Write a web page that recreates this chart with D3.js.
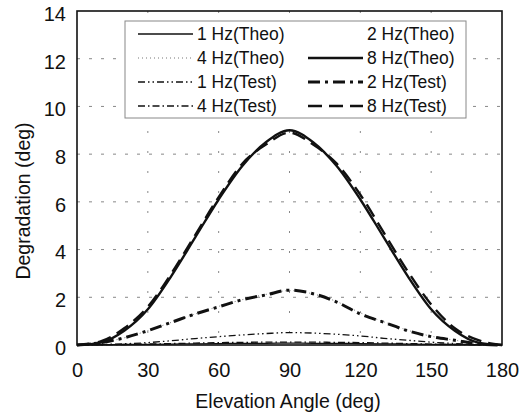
<!DOCTYPE html>
<html>
<head>
<meta charset="utf-8">
<script src="https://cdn.jsdelivr.net/npm/d3@7"></script>
<style>
    body { margin: 0; background: #fff; }
    text { font-family: 'Liberation Sans', Arial, sans-serif; fill: #111; }
</style>
</head>
<body>
<svg id="chart" width="532" height="417"></svg>
<script>
// Углы возвышения и значения деградации
const angles = [0, 10, 20, 30, 40, 50, 60, 70, 80, 90, 100, 110, 120, 130, 140, 150, 160, 170, 180]

const theo1 = [0, 0.01, 0.02, 0.03, 0.04, 0.05, 0.06, 0.07, 0.07, 0.08, 0.07, 0.07, 0.06, 0.05, 0.04, 0.03, 0.02, 0.01, 0]
const theo2 = [0, 0.02, 0.06, 0.12, 0.2, 0.29, 0.38, 0.46, 0.52, 0.55, 0.52, 0.46, 0.38, 0.29, 0.2, 0.12, 0.06, 0.02, 0]
const theo4 = [0, 0.1, 0.3, 0.6, 0.95, 1.3, 1.62, 1.9, 2.12, 2.28, 2.14, 1.82, 1.35, 0.97, 0.62, 0.37, 0.2, 0.06, 0]
const theo8 = [0, 0.1, 0.6, 1.5, 2.9, 4.5, 6.1, 7.5, 8.5, 9.0, 8.5, 7.5, 6.1, 4.5, 2.9, 1.5, 0.6, 0.1, 0]
const test1 = [0, 0.02, 0.05, 0.1, 0.18, 0.27, 0.35, 0.42, 0.48, 0.52, 0.5, 0.45, 0.38, 0.28, 0.2, 0.12, 0.06, 0.02, 0]
const test2 = [0, 0.1, 0.3, 0.6, 0.95, 1.3, 1.6, 1.9, 2.1, 2.3, 2.15, 1.8, 1.3, 0.95, 0.6, 0.35, 0.2, 0.05, 0]
const test4 = [0, 0.01, 0.02, 0.04, 0.06, 0.08, 0.1, 0.11, 0.12, 0.12, 0.12, 0.11, 0.1, 0.08, 0.06, 0.04, 0.02, 0.01, 0]
const test8 = [0, 0.15, 0.7, 1.6, 3.0, 4.6, 6.2, 7.6, 8.4, 8.9, 8.4, 7.6, 6.3, 4.7, 3.1, 1.7, 0.7, 0.2, 0]

const xTicks = [0, 30, 60, 90, 120, 150, 180]
const yTicks = [0, 2, 4, 6, 8, 10, 12, 14]

// Порядок легенды: две колонки, четыре строки
const seriesNames = ['1 Hz(Theo)', '2 Hz(Theo)', '4 Hz(Theo)', '8 Hz(Theo)',
    '1 Hz(Test)', '2 Hz(Test)', '4 Hz(Test)', '8 Hz(Test)']
const seriesValues = [theo1, theo2, theo4, theo8, test1, test2, test4, test8]

const styles = {
    '1 Hz(Theo)': { w: 1.3, dash: null, color: '#111' },
    '2 Hz(Theo)': { w: 1, dash: null, color: 'none' },
    '4 Hz(Theo)': { w: 1, dash: '1,3', color: '#777' },
    '8 Hz(Theo)': { w: 2.4, dash: null, color: '#111' },
    '1 Hz(Test)': { w: 1.3, dash: '7,3,1.5,3,1.5,3', color: '#111' },
    '2 Hz(Test)': { w: 3, dash: '12,5,3,5', color: '#111' },
    '4 Hz(Test)': { w: 1.3, dash: '7,3,1.5,3', color: '#111' },
    '8 Hz(Test)': { w: 2.4, dash: '14,7', color: '#111' },
}

const svg = d3.select('#chart')
const margin = { left: 77, right: 30, top: 11, bottom: 72 }
const width = 532 - margin.left - margin.right,
    height = 417 - margin.top - margin.bottom

const x = d3.scaleLinear().domain([0, 180]).range([0, width])
const y = d3.scaleLinear().domain([0, 14]).range([height, 0])

const g = svg.append('g').attr('transform', `translate(${margin.left},${margin.top})`)

// Сетка пунктиром
g.append('g')
    .selectAll('line')
    .data(yTicks.filter(t => t > 0 && t < 14))
    .join('line')
    .attr('x1', 0).attr('x2', width)
    .attr('y1', d => y(d)).attr('y2', d => y(d))
    .attr('stroke', '#888').attr('stroke-width', 1).attr('stroke-dasharray', '3,9')

g.append('g')
    .selectAll('line')
    .data(xTicks.filter(t => t > 0 && t < 180))
    .join('line')
    .attr('y1', 0).attr('y2', height)
    .attr('x1', d => x(d)).attr('x2', d => x(d))
    .attr('stroke', '#888').attr('stroke-width', 1).attr('stroke-dasharray', '2,18')

// Кривые
const line = d3.line()
    .x((d, i) => x(angles[i]))
    .y(d => y(d))
    .curve(d3.curveMonotoneX)

const order = [0, 1, 4, 6, 2, 5, 7, 3]
order.forEach(i => {
    const s = styles[seriesNames[i]]
    if (s.color === 'none') return
    g.append('path')
        .datum(seriesValues[i])
        .attr('d', line)
        .attr('fill', 'none')
        .attr('stroke', s.color)
        .attr('stroke-width', s.w)
        .attr('stroke-dasharray', s.dash)
})

// Рамка графика
g.append('rect')
    .attr('width', width).attr('height', height)
    .attr('fill', 'none').attr('stroke', '#111').attr('stroke-width', 1.6)

// Оси
const xAxis = g.append('g')
    .attr('transform', `translate(0,${height})`)
    .call(d3.axisBottom(x).tickValues(xTicks).tickSize(0).tickPadding(18))
const yAxis = g.append('g')
    .attr('transform', 'translate(0,3)')
    .call(d3.axisLeft(y).tickValues(yTicks).tickSize(0).tickPadding(11))
;[xAxis, yAxis].forEach(a => {
    a.select('.domain').remove()
    a.selectAll('text').attr('font-size', 20).attr('fill', '#111')
        .style('font-family', "'Liberation Sans', Arial, sans-serif")
})

g.append('text')
    .attr('x', 288 - margin.left).attr('y', height + 63)
    .attr('text-anchor', 'middle').attr('font-size', 19.5)
    .text('Elevation Angle (deg)')

g.append('text')
    .attr('transform', `translate(${30 - margin.left},${201 - margin.top}) rotate(-90)`)
    .attr('text-anchor', 'middle').attr('font-size', 19.5)
    .text('Degradation (deg)')

// Легенда
const legend = svg.append('g').attr('transform', 'translate(125,21)')
legend.append('rect')
    .attr('width', 341).attr('height', 97)
    .attr('fill', '#fff').attr('stroke', '#888').attr('stroke-width', 1)

const legendItems = [
    ['1 Hz(Theo)', '2 Hz(Theo)'],
    ['4 Hz(Theo)', '8 Hz(Theo)'],
    ['1 Hz(Test)', '2 Hz(Test)'],
    ['4 Hz(Test)', '8 Hz(Test)'],
]
legendItems.forEach((row, r) => {
    row.forEach((name, c) => {
        const s = styles[name]
        const gx = c === 0 ? 13 : 183
        const gy = 13 + r * 24
        if (s.color !== 'none') {
            legend.append('line')
                .attr('x1', gx).attr('x2', gx + 55)
                .attr('y1', gy).attr('y2', gy)
                .attr('stroke', s.color).attr('stroke-width', s.w)
                .attr('stroke-dasharray', s.dash)
        }
        legend.append('text')
            .attr('x', gx + 59).attr('y', gy)
            .attr('dy', '0.35em').attr('font-size', 17.5)
            .text(name)
    })
})
</script>
</body>
</html>
